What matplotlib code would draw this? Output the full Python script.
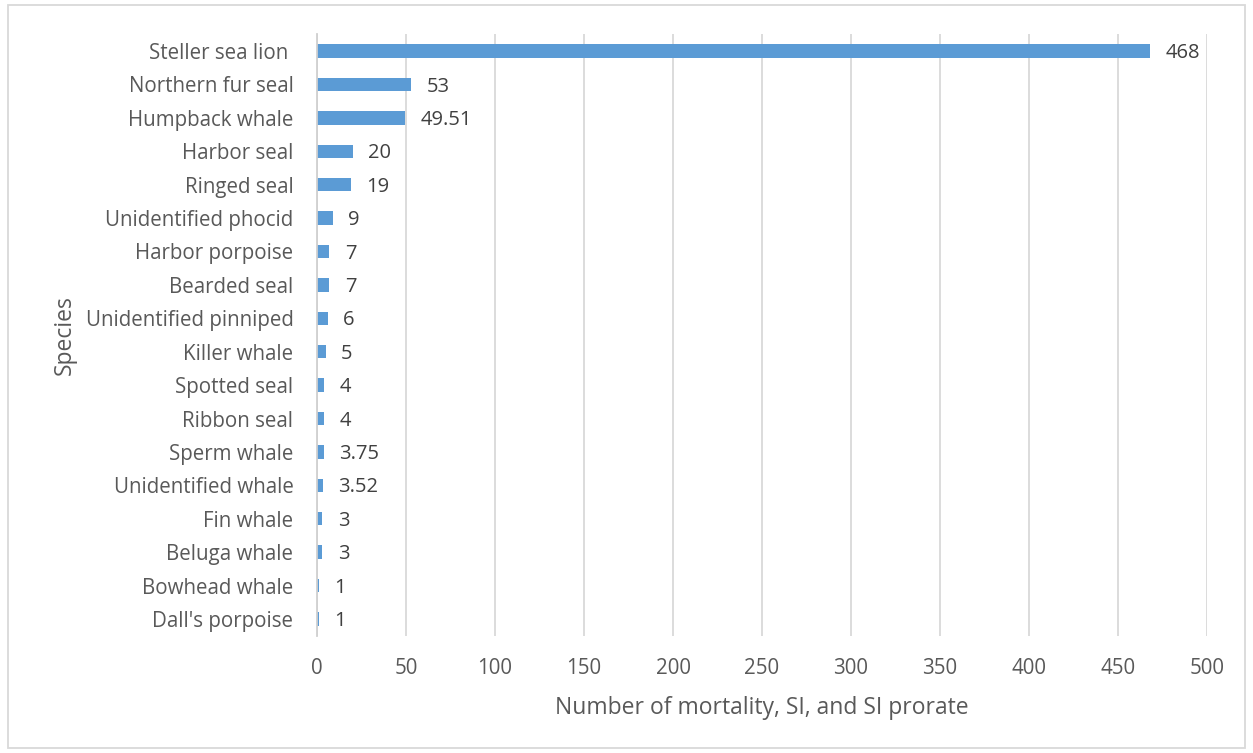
import matplotlib
matplotlib.use('Agg')
import matplotlib.pyplot as plt
from matplotlib.patches import Rectangle

species = ["Steller sea lion ", "Northern fur seal", "Humpback whale", "Harbor seal",
           "Ringed seal", "Unidentified phocid", "Harbor porpoise", "Bearded seal",
           "Unidentified pinniped", "Killer whale", "Spotted seal", "Ribbon seal",
           "Sperm whale", "Unidentified whale", "Fin whale", "Beluga whale",
           "Bowhead whale", "Dall's porpoise"]
counts = [468, 53, 49.51, 20, 19, 9, 7, 7, 6, 5, 4, 4, 3.75, 3.52, 3, 3, 1, 1]
count_labels = ["468", "53", "49.51", "20", "19", "9", "7", "7", "6", "5", "4", "4",
                "3.75", "3.52", "3", "3", "1", "1"]
xticks = [0, 50, 100, 150, 200, 250, 300, 350, 400, 450, 500]

plt.rcParams['font.family'] = ['Open Sans', 'DejaVu Sans']

fig = plt.figure(figsize=(12.53, 7.53), dpi=100)
ax = fig.add_axes([0.253, 0.1558, 0.9633 - 0.253, 0.9544 - 0.1558])

ypos = list(range(len(species)))
ax.barh(ypos, counts, height=0.4, color='#5B9BD5')
ax.set_ylim(len(species) - 0.5, -0.5)
ax.set_xlim(0, 500)
ax.set_yticks(ypos)
ax.set_yticklabels(species)
ax.set_xticks(xticks)

for y, v, lab in zip(ypos, counts, count_labels):
    ax.annotate(lab, (v, y), xytext=(11, -1.5), textcoords='offset points',
                va='center', ha='left', fontsize=14.5, color='#404040')

ax.grid(axis='x', color='#D9D9D9', linewidth=1.3)
ax.set_axisbelow(True)
for s in ['top', 'right', 'bottom']:
    ax.spines[s].set_visible(False)
ax.spines['left'].set_color('#D0D0D0')
ax.spines['left'].set_linewidth(1.3)
ax.tick_params(length=0, labelsize=14.8, labelcolor='#595959')
ax.tick_params(axis='x', pad=16)
ax.tick_params(axis='y', pad=17)

ax.set_xlabel('Number of mortality, SI, and SI prorate', fontsize=16.5, color='#595959', labelpad=12)
ax.set_ylabel('Species', fontsize=16.5, color='#595959', labelpad=6)

fig.patches.append(Rectangle((0.006, 0.006), 0.988, 0.988, transform=fig.transFigure,
                             fill=False, edgecolor='#D9D9D9', linewidth=1.3))

fig.savefig('out.png', dpi=100)
